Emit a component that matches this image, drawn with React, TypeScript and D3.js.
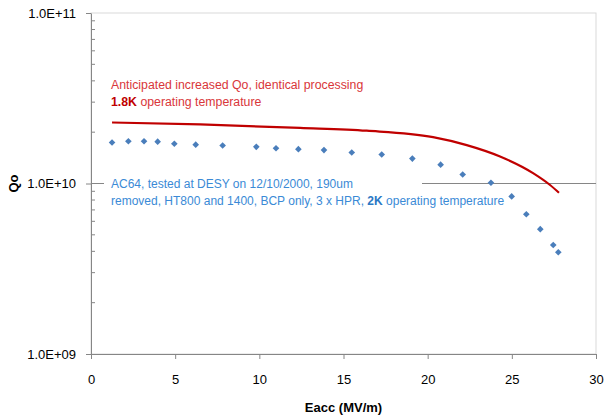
import React, { useEffect, useRef } from "react";
import * as d3 from "d3";

// measured Qo vs Eacc (AC64 at DESY, 2K)
const measEacc = [1.25, 2.22, 3.15, 3.96, 4.95, 6.22, 7.82, 9.82, 10.99, 12.32, 13.84, 15.49, 17.27, 19.09, 20.77, 22.08, 23.76, 24.99, 25.86, 26.69, 27.46, 27.76];
const measQo = [1.74e10, 1.77e10, 1.77e10, 1.76e10, 1.71e10, 1.69e10, 1.67e10, 1.64e10, 1.61e10, 1.59e10, 1.57e10, 1.52e10, 1.48e10, 1.4e10, 1.29e10, 1.13e10, 1.01e10, 8.4e9, 6.6e9, 5.4e9, 4.36e9, 3.95e9];

// anticipated curve at 1.8K
const antEacc = [1.25, 6.48, 12.42, 16.38, 20.32, 22.32, 24.3, 26.26, 27.27, 27.8];
const antQo = [2.28e10, 2.22e10, 2.12e10, 2.04e10, 1.87e10, 1.68e10, 1.44e10, 1.15e10, 9.8e9, 8.83e9];

const xTicks = [0, 5, 10, 15, 20, 25, 30];
const yTicks = [1e9, 1e10, 1e11];
const yTickLabels = ["1.0E+09", "1.0E+10", "1.0E+11"];

const W = 604;
const H = 420;
const margin = { left: 91, right: 8, top: 13, bottom: 66 };
const FONT = "'Liberation Sans', Arial, sans-serif";

export default function App() {
  const ref = useRef<SVGSVGElement>(null);

  useEffect(() => {
    const svg = d3.select(ref.current);
    svg.selectAll("*").remove();

    const x = d3.scaleLinear().domain([0, 30]).range([margin.left, W - margin.right]);
    const y = d3.scaleLog().domain([1e9, 1e11]).range([H - margin.bottom, margin.top]);
    const [x0, x1] = x.range();
    const [y0, y1] = y.range();

    // plot border
    svg.append("rect")
      .attr("x", x0).attr("y", y1)
      .attr("width", x1 - x0).attr("height", y0 - y1)
      .attr("fill", "none").attr("stroke", "#d9d9d9");

    // major gridline
    svg.append("line")
      .attr("x1", x0).attr("x2", x1)
      .attr("y1", y(1e10)).attr("y2", y(1e10))
      .attr("stroke", "#868686");

    // minor ticks (inside)
    const minors: number[] = [];
    [1e9, 1e10].forEach((d) => {
      for (let k = 2; k <= 9; k++) minors.push(d * k);
    });
    svg.append("g").selectAll("line").data(minors).enter().append("line")
      .attr("x1", x0).attr("x2", x0 + 4)
      .attr("y1", (d) => y(d)).attr("y2", (d) => y(d))
      .attr("stroke", "#868686");

    // y axis
    svg.append("g")
      .attr("transform", `translate(${x0},0)`)
      .call(d3.axisLeft(y).tickValues(yTicks).tickSize(5).tickSizeOuter(0)
        .tickFormat((d, i) => yTickLabels[i]))
      .call((g) => {
        g.select(".domain").attr("stroke", "#868686");
        g.selectAll(".tick line").attr("stroke", "#868686");
        g.selectAll(".tick text")
          .attr("x", -15)
          .attr("fill", "#000")
          .style("font-family", FONT).style("font-size", "13px");
      });

    // x axis
    svg.append("g")
      .attr("transform", `translate(0,${y0})`)
      .call(d3.axisBottom(x).tickValues(xTicks).tickSize(5).tickSizeOuter(0))
      .call((g) => {
        g.select(".domain").attr("stroke", "#868686");
        g.selectAll(".tick line").attr("stroke", "#868686");
        g.selectAll(".tick text")
          .attr("y", 21)
          .attr("fill", "#000")
          .style("font-family", FONT).style("font-size", "13px");
      });

    // white annotation box covering the gridline
    svg.append("rect")
      .attr("x", 104).attr("y", 172)
      .attr("width", 318).attr("height", 40)
      .attr("fill", "#fff");

    // anticipated curve
    const line = d3.line<number>()
      .x((d, i) => x(antEacc[i]))
      .y((d) => y(d))
      .curve(d3.curveMonotoneX);
    svg.append("path")
      .datum(antQo)
      .attr("d", line)
      .attr("fill", "none")
      .attr("stroke", "#c00000")
      .attr("stroke-width", 2.2);

    // measured points
    svg.append("g").selectAll("path").data(measQo).enter().append("path")
      .attr("transform", (d, i) => `translate(${x(measEacc[i])},${y(d)})`)
      .attr("d", d3.symbol().type(d3.symbolDiamond2).size(28)())
      .attr("fill", "#4a7ebb");

    // annotations
    const red = svg.append("text")
      .style("font-family", FONT).style("font-size", "12.3px").attr("fill", "#d9363a");
    red.append("tspan").attr("x", 111).attr("y", 89)
      .text("Anticipated increased Qo, identical processing");
    red.append("tspan").attr("x", 111).attr("y", 106)
      .attr("font-weight", "bold").attr("fill", "#c00000").text("1.8K");
    red.append("tspan").text(" operating temperature");

    const blue = svg.append("text")
      .style("font-family", FONT).style("font-size", "12px").attr("fill", "#3a8ad6");
    blue.append("tspan").attr("x", 111).attr("y", 188)
      .text("AC64, tested at DESY on 12/10/2000, 190um");
    blue.append("tspan").attr("x", 111).attr("y", 205)
      .text("removed, HT800 and 1400, BCP only, 3 x HPR, ");
    blue.append("tspan").attr("font-weight", "bold").attr("fill", "#2a78c4").text("2K");
    blue.append("tspan").text(" operating temperature");

    // axis titles
    svg.append("text")
      .attr("transform", `translate(18,${y(1e10)}) rotate(-90)`)
      .attr("text-anchor", "middle")
      .style("font-family", FONT).style("font-size", "13px").style("font-weight", "bold")
      .text("Qo");
    svg.append("text")
      .attr("x", (x0 + x1) / 2).attr("y", 412)
      .attr("text-anchor", "middle")
      .style("font-family", FONT).style("font-size", "13px").style("font-weight", "bold")
      .text("Eacc (MV/m)");
  }, []);

  return (
    <svg ref={ref} width={W} height={H}
      style={{ position: "absolute", left: 0, top: 0, background: "#fff" }} />
  );
}
